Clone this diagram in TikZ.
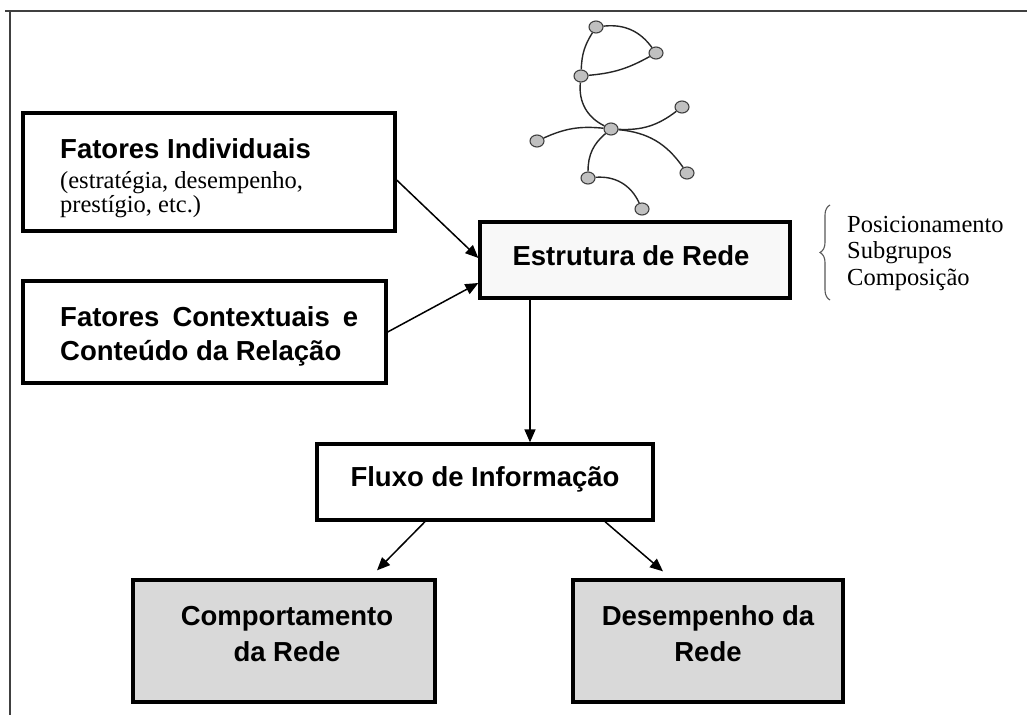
\documentclass[tikz,border=0pt]{standalone}
\usepackage{fontspec}
\setmainfont{Liberation Serif}
\setsansfont{Liberation Sans}
\usetikzlibrary{arrows.meta,decorations.pathreplacing,shapes.geometric}
\definecolor{boxgray}{HTML}{D9D9D9}
\definecolor{lightbox}{HTML}{F8F8F8}
\definecolor{nodegray}{HTML}{C0C0C0}
\definecolor{framegray}{HTML}{404040}
\begin{document}
\begin{tikzpicture}[x=1pt,y=-1pt,
  box/.style={draw=black,line width=3.3pt,inner sep=0pt},
  bold/.style={font=\sffamily\bfseries\fontsize{27.5}{30}\selectfont,inner sep=0pt},
  serif/.style={font=\fontsize{24.5}{28}\selectfont,inner sep=0pt},
  arr/.style={line width=1.5pt,-{Triangle[length=13pt,width=11pt]}},
  gnode/.style={ellipse,draw=black!75,line width=1.1pt,fill=nodegray,minimum width=14pt,minimum height=12pt,inner sep=0pt},
  gedge/.style={line width=1.4pt,black!85}]
\useasboundingbox (0,0) rectangle (1027,715);
\fill[white] (0,0) rectangle (1027,715);
% frame
\draw[framegray,line width=2.2pt] (5,11) -- (1027,11);
\draw[framegray,line width=2.2pt] (10,11) -- (10,715);

% boxes
\node[box,minimum width=372pt,minimum height=118pt] (fi) at (209,172) {};
\node[bold,anchor=base west] (fit1) at (60,158) {Fatores Individuais};
\node[serif,anchor=base west] (fit2) at (60,188) {(estratégia, desempenho,};
\node[serif,anchor=base west] (fit3) at (60,212) {prestígio, etc.)};

\node[box,minimum width=363pt,minimum height=102pt] (fc) at (204.5,332) {};
\node[bold,anchor=base west] (fct1) at (60,326) {\makebox[298pt][s]{Fatores Contextuais e}};
\node[bold,anchor=base west] (fct2) at (60,360) {Conteúdo da Relação};

\node[box,fill=lightbox,minimum width=310pt,minimum height=76pt] (er) at (635,260) {};
\node[bold,anchor=base] (ert) at (631,265) {Estrutura de Rede};

\node[box,minimum width=336pt,minimum height=76pt] (fl) at (485,482) {};
\node[bold,anchor=base] (flt) at (485,486) {Fluxo de Informação};

\node[box,fill=boxgray,minimum width=302pt,minimum height=122pt] (cr) at (284,641) {};
\node[bold,anchor=base] (crt1) at (287,625) {Comportamento};
\node[bold,anchor=base] (crt2) at (287,661) {da Rede};

\node[box,fill=boxgray,minimum width=270pt,minimum height=122pt] (dr) at (708,641) {};
\node[bold,anchor=base] (drt1) at (708,625) {Desempenho da};
\node[bold,anchor=base] (drt2) at (708,661) {Rede};

% brace list
\node[serif,anchor=base west] (p1) at (847,232) {Posicionamento};
\node[serif,anchor=base west] (p2) at (847,258) {Subgrupos};
\node[serif,anchor=base west] (p3) at (847,285) {Composição};
\draw[black!65,line width=1.1pt,decorate,decoration={brace,amplitude=10pt}] (830,300) -- (830,205);

% arrows
\draw[arr] ([yshift=-8pt]fi.east) -- ([yshift=2pt]er.west);
\draw[arr] (fc.east) -- ([yshift=-23pt]er.west);
\draw[arr] ([xshift=-105pt]er.south) -- ([xshift=45pt]fl.north);
\draw[arr] ([xshift=-60pt]fl.south) -- ([xshift=93pt,yshift=8pt]cr.north);
\draw[arr] ([xshift=120pt]fl.south) -- ([xshift=-45pt,yshift=7pt]dr.north);

% network graph
\node[gnode] (n1) at (596,27) {};
\node[gnode] (n2) at (656,53) {};
\node[gnode] (n3) at (581,76) {};
\node[gnode] (n4) at (682,107) {};
\node[gnode] (n5) at (611,129) {};
\node[gnode] (n6) at (537,141) {};
\node[gnode] (n7) at (687,173) {};
\node[gnode] (n8) at (588,178) {};
\node[gnode] (n9) at (642,209) {};
\draw[gedge] (n1) to[bend left=30] (n2);
\draw[gedge] (n1) to[bend right=15] (n3);
\draw[gedge] (n3) to[bend right=12] (n2);
\draw[gedge] (n3) to[bend right=35] (n5);
\draw[gedge] (n5) to[bend right=20] (n4);
\draw[gedge] (n5) to[bend right=15] (n6);
\draw[gedge] (n5) to[bend left=25] (n7);
\draw[gedge] (n5) to[bend right=25] (n8);
\draw[gedge] (n8) to[bend left=35] (n9);
\end{tikzpicture}
\end{document}
